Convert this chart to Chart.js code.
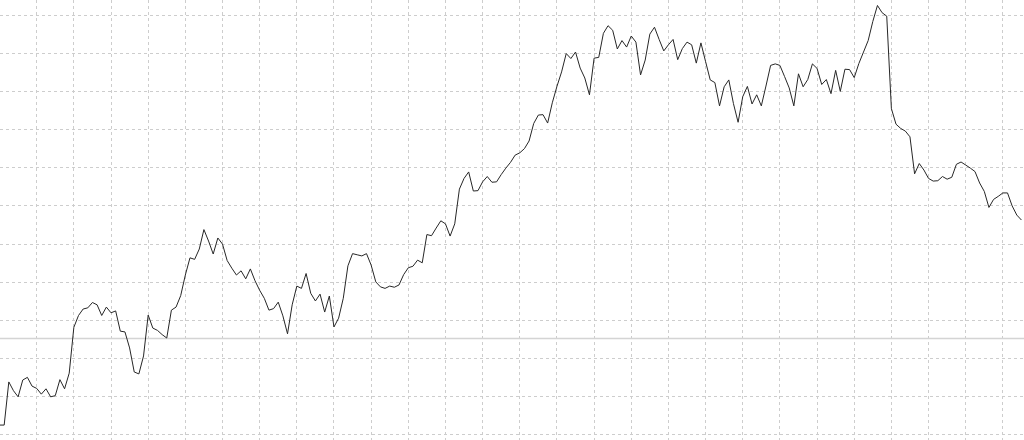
<!DOCTYPE html>
<html>
<head>
<meta charset="utf-8">
<script src="https://cdn.jsdelivr.net/npm/chart.js@4/dist/chart.umd.min.js"></script>
<style>
  html, body { margin: 0; padding: 0; background: #fff; }
</style>
</head>
<body>
<canvas id="chart" width="1024" height="440"></canvas>
<script>
// series values, one per period
const values = [
    2.6, 2.6, 13.9, 11.6, 10.0, 14.4, 15.1, 12.8, 12.2, 10.7,
    12.1, 10.0, 10.3, 14.5, 12.1, 16.2, 28.2, 31.3, 33.0, 33.3,
    34.7, 34.1, 31.3, 33.5, 32.0, 32.5, 27.2, 27.0, 22.8, 16.5,
    16.0, 20.7, 31.4, 28.0, 27.4, 26.3, 25.4, 32.7, 33.5, 36.5,
    41.9, 46.4, 46.0, 48.7, 53.8, 50.8, 47.4, 51.6, 50.0, 45.7,
    43.7, 41.9, 43.0, 40.9, 43.5, 40.4, 37.9, 35.8, 32.7, 33.1,
    34.8, 31.2, 26.5, 34.1, 39.0, 38.4, 42.3, 37.1, 35.1, 36.9,
    32.2, 36.4, 28.3, 30.6, 35.8, 44.3, 47.5, 47.2, 46.9, 47.5,
    44.5, 40.1, 38.8, 38.4, 39.0, 38.7, 39.3, 42.0, 43.8, 44.2,
    45.8, 45.1, 52.5, 52.2, 54.2, 56.1, 55.3, 52.1, 55.3, 64.4,
    67.2, 68.9, 63.9, 64.0, 66.3, 67.7, 66.2, 66.3, 68.2, 69.9,
    71.4, 73.3, 73.9, 75.0, 77.0, 81.6, 83.8, 83.9, 81.7, 87.0,
    91.3, 95.1, 99.9, 98.6, 100.3, 96.1, 93.5, 89.1, 98.7, 98.9,
    105.2, 107.2, 106.0, 101.1, 103.3, 101.6, 104.5, 102.9, 94.3, 98.2,
    105.0, 106.8, 103.6, 100.6, 102.2, 103.6, 98.3, 101.2, 102.9, 102.2,
    97.4, 102.7, 97.8, 93.0, 92.3, 86.2, 91.2, 93.0, 86.8, 81.9,
    88.6, 91.3, 86.7, 89.1, 86.2, 91.4, 96.8, 97.2, 96.8, 93.9,
    90.9, 86.2, 94.6, 91.2, 93.1, 97.2, 96.0, 91.8, 93.1, 89.4,
    95.5, 90.0, 95.8, 95.7, 93.6, 97.3, 100.3, 103.3, 108.3, 112.5,
    110.6, 109.7, 85.5, 81.4, 80.3, 79.6, 78.1, 68.4, 71.1, 69.4,
    67.2, 66.5, 66.6, 67.7, 67.0, 67.5, 70.9, 71.5, 70.7, 69.9,
    69.0, 66.0, 63.8, 59.6, 61.7, 62.5, 63.4, 63.4, 60.0, 57.6,
    56.3
]

// period index for each value
const periods = values.map((v, i) => i)

// the flat grey reference level
const referenceLevel = 25.3

const ctx = document.getElementById('chart').getContext('2d')

const gridStyle = {
    color: '#cdcdcd',
    lineWidth: 1,
    drawTicks: false
}

const chart = new Chart(ctx, {
    type: 'line',
    data: {
        labels: periods,
        datasets: [
            {
                data: values,
                borderColor: '#262626',
                borderWidth: 1,
                pointRadius: 0,
                tension: 0,
                fill: false,
                order: 0
            },
            {
                data: [
                    { x: periods[0], y: referenceLevel },
                    { x: periods[periods.length - 1] + 1, y: referenceLevel }
                ],
                borderColor: '#d4d4d4',
                borderWidth: 1.5,
                pointRadius: 0,
                fill: false,
                order: 1
            }
        ]
    },
    options: {
        responsive: false,
        animation: false,
        layout: { padding: 0, autoPadding: false },
        plugins: {
            legend: { display: false },
            tooltip: { enabled: false }
        },
        scales: {
            x: {
                type: 'linear',
                min: 0.1,
                max: 220.55,
                border: { display: false, dash: [3, 3] },
                grid: gridStyle,
                ticks: { display: false, stepSize: 8, includeBounds: false }
            },
            y: {
                type: 'linear',
                min: -1.31,
                max: 113.93,
                border: { display: false, dash: [3, 3] },
                grid: gridStyle,
                ticks: { display: false, stepSize: 10, includeBounds: false }
            }
        }
    }
})
</script>
</body>
</html>
